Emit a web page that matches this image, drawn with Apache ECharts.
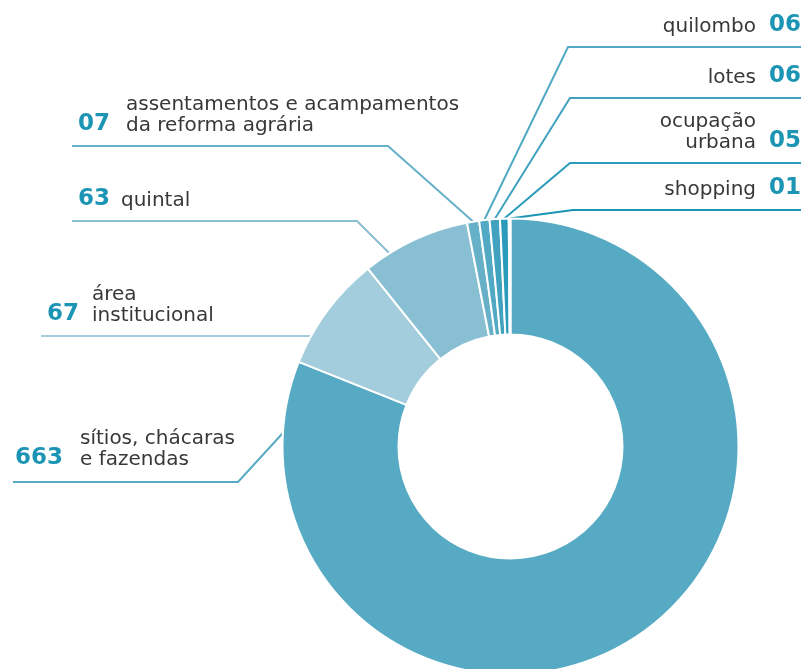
<!DOCTYPE html>
<html>
<head>
<meta charset="utf-8" />
<title></title>
<script type="text/javascript" src="https://cdn.jsdelivr.net/npm/echarts@6/dist/echarts.min.js"></script>
<style>html,body{margin:0;padding:0;background:#fff;}</style>
</head>
<body>
	<div id="chartmain" style="width: 804px; height: 669px;"></div>
	<script type="text/javascript">
		// dados
		var categorias = ['sítios, chácaras\ne fazendas', 'área\ninstitucional', 'quintal',
			'assentamentos e acampamentos\nda reforma agrária', 'quilombo', 'lotes', 'ocupação\nurbana', 'shopping'];
		var valores = [663, 67, 63, 7, 6, 6, 5, 1];
		var cores = ['#56aac3', '#a3cddd', '#88bfd2', '#66b1c8', '#52a9c4', '#40a2bf', '#2a9bba', '#1c95b4'];

		// geometria da rosca
		var cx = 510.5, cy = 446.5, R = 228, r0 = 112;

		// posição dos rótulos: lado, altura da linha, cotovelo, fim da linha, x do texto, x do número,
		// folga acima da linha, ponto de ancoragem dentro da fatia (0..1)
		var rotulos = [
			{ lado: 'left', linhaY: 482, cotoveloX: 238, fimX: 13, textoX: 80, numX: 15, folga: 12, ancora: 0.937 },
			{ lado: 'left', linhaY: 336, cotoveloX: null, fimX: 41, textoX: 92, numX: 47, folga: 10, ancora: 0.25 },
			{ lado: 'left', linhaY: 221, cotoveloX: 357, fimX: 72, textoX: 121, numX: 78, folga: 10, ancora: 0.24 },
			{ lado: 'left', linhaY: 146, cotoveloX: 388, fimX: 72, textoX: 126, numX: 78, folga: 10, ancora: 0.5 },
			{ lado: 'right', linhaY: 47, cotoveloX: 568, fimX: 801, textoX: 756, numX: 801, folga: 10, ancora: 0.5 },
			{ lado: 'right', linhaY: 98, cotoveloX: 570, fimX: 801, textoX: 756, numX: 801, folga: 10, ancora: 0.5 },
			{ lado: 'right', linhaY: 163, cotoveloX: 570, fimX: 801, textoX: 756, numX: 801, folga: 10, ancora: 0.5 },
			{ lado: 'right', linhaY: 210, cotoveloX: 573, fimX: 801, textoX: 756, numX: 801, folga: 10, ancora: 0.5 }
		];

		var total = valores.reduce(function (a, b) { return a + b; }, 0);

		// ângulo (graus, sentido horário a partir do topo) do ponto de ancoragem de cada fatia
		function anguloAncora(i) {
			var antes = 0;
			for (var k = 0; k < i; k++) antes += valores[k];
			return (antes + valores[i] * rotulos[i].ancora) / total * 360;
		}

		function layoutNome(p) {
			var L = rotulos[p.dataIndex];
			var a = anguloAncora(p.dataIndex) * Math.PI / 180;
			var ax = cx + R * Math.sin(a), ay = cy - R * Math.cos(a);
			var ex = L.cotoveloX == null ? ax : L.cotoveloX;
			return {
				x: L.textoX,
				y: L.linhaY - L.folga,
				align: L.lado,
				verticalAlign: 'bottom',
				labelLinePoints: [[ax, ay], [ex, L.linhaY], [L.fimX, L.linhaY]]
			};
		}

		function layoutNumero(p) {
			var L = rotulos[p.dataIndex];
			return {
				x: L.numX,
				y: L.linhaY - L.folga,
				align: L.lado,
				verticalAlign: 'bottom'
			};
		}

		var dados = categorias.map(function (nome, i) {
			return { name: nome, value: valores[i], itemStyle: { color: cores[i] } };
		});

		var option = {
			animation: false,
			series: [{
				type: 'pie',
				center: [cx, cy],
				radius: [r0, R],
				startAngle: 90,
				clockwise: true,
				avoidLabelOverlap: false,
				itemStyle: { borderColor: '#ffffff', borderWidth: 2 },
				emphasis: { disabled: true },
				label: {
					show: true,
					formatter: '{b}',
					fontFamily: 'DejaVu Sans',
					fontSize: 20,
					lineHeight: 21,
					color: '#383838'
				},
				labelLine: { show: true, length: 10, length2: 10, lineStyle: { width: 2 } },
				labelLayout: layoutNome,
				data: dados
			}, {
				type: 'pie',
				center: [cx, cy],
				radius: [r0, R],
				startAngle: 90,
				clockwise: true,
				silent: true,
				avoidLabelOverlap: false,
				itemStyle: { color: 'rgba(0,0,0,0)', borderWidth: 0 },
				label: {
					show: true,
					formatter: function (p) { return p.value < 10 ? '0' + p.value : '' + p.value; },
					fontFamily: 'DejaVu Sans',
					fontWeight: 'bold',
					fontSize: 23,
					lineHeight: 24,
					color: '#1b95b3'
				},
				labelLine: { show: false },
				labelLayout: layoutNumero,
				data: valores.map(function (v, i) { return { name: categorias[i], value: v }; })
			}]
		};

		var myChart = echarts.init(document.getElementById('chartmain'));
		myChart.setOption(option);
	</script>
</body>
</html>
